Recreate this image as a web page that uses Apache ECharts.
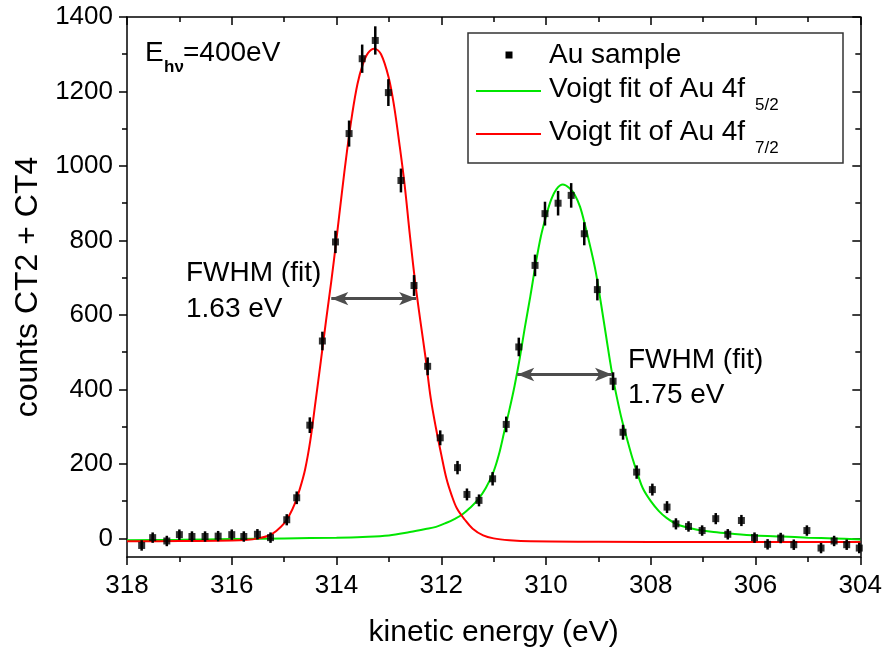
<!DOCTYPE html>
<html><head><meta charset="utf-8">
<script src="https://cdn.jsdelivr.net/npm/echarts@6/dist/echarts.min.js"></script>
<style>html,body{margin:0;padding:0;background:#fff}#c{width:885px;height:659px}</style>
</head><body><div id="c"></div>
<script>
// measured data points (kinetic energy, counts, error)
const energy = [317.72,317.51,317.24,317.0,316.76,316.51,316.26,316.0,315.77,315.51,315.26,314.95,314.76,314.51,314.27,314.02,313.76,313.51,313.26,313.01,312.77,312.52,312.26,312.02,311.69,311.51,311.28,311.02,310.76,310.52,310.21,310.02,309.77,309.52,309.27,309.02,308.72,308.53,308.27,307.97,307.69,307.52,307.28,307.02,306.76,306.53,306.27,306.02,305.77,305.52,305.27,305.02,304.75,304.50,304.26,304.02];
const counts = [-19,2,-7,10,5,5,6,10,5,11,2,50,109,304,530,796,1087,1288,1337,1197,961,679,462,270,190,118,102,160,306,514,733,872,900,921,818,668,422,285,178,131,84,39,32,21,53,11,48,2,-16,1,-17,21,-26,-7,-17,-26];
const errors = [14,14,14,14,14,14,14,14,14,14,14,15,17,21,25,30,35,38,38,36,32,28,24,20,18,16,16,18,21,25,29,32,33,33,31,29,24,20,18,16,16,15,14,14,15,14,15,14,14,14,14,14,14,14,14,14];

// Voigt fit of Au 4f 7/2
const fit72E = [318,317,316,315.7,315.5,315.3,315.15,315.0,314.9,314.8,314.7,314.6,314.5,314.4,314.3,314.2,314.1,314.0,313.9,313.8,313.7,313.6,313.5,313.4,313.28,313.15,313.0,312.9,312.8,312.7,312.6,312.5,312.4,312.3,312.2,312.1,312.0,311.9,311.8,311.7,311.55,311.4,311.2,311.0,310.7,310.3,309,307,305,304];
const fit72Y = [-8,-7,-6,-4,0,7,20,40,62,92,133,185,263,368,475,585,690,805,925,1040,1140,1220,1272,1303,1315,1300,1235,1160,1060,950,815,690,585,485,375,295,225,160,115,80,50,26,8,0,-5,-8,-9,-10,-10,-10];

// Voigt fit of Au 4f 5/2
const fit52E = [318,317,316,315,314,313.5,313,312.6,312.3,312.1,311.9,311.75,311.6,311.45,311.3,311.15,311.0,310.9,310.8,310.7,310.6,310.5,310.4,310.3,310.2,310.1,310.0,309.9,309.8,309.68,309.55,309.45,309.35,309.25,309.15,309.05,308.95,308.85,308.75,308.65,308.55,308.45,308.35,308.25,308.15,308.0,307.85,307.7,307.5,307.2,306.8,306.4,306.0,305.5,305.0,304.5,304];
const fit52Y = [-5,-4,-2,0,2,4,8,17,25,31,42,52,64,82,104,135,180,225,285,345,410,485,570,650,735,810,865,910,938,950,940,922,890,838,780,715,630,540,452,380,317,265,215,172,134,100,74,55,38,26,17,12,8,5,2,0,-3];

// FWHM arrows (energy from, energy to, counts level)
const fwhm72 = [314.10, 312.48, 644];
const fwhm52 = [310.55, 308.74, 440];

const yTicks = [0,200,400,600,800,1000,1200,1400];
const yMinorTicks = [100,300,500,700,900,1100,1300];

const FONT = "'Liberation Sans', Arial, sans-serif";
const chart = echarts.init(document.getElementById('c'), null, {renderer:'canvas'});

const lineBlack = {color:'#000', width:1.5};
const plain = v => String(v);
const baseX = {type:'value', min:304, max:318, interval:2, inverse:true, splitLine:{show:false}};
const baseY = {type:'value', min:-50, max:1400, splitLine:{show:false}};

chart.setOption({
  animation:false,
  backgroundColor:'#fff',
  grid:{left:127, right:22, top:17, bottom:102, containLabel:false},
  xAxis:[
    Object.assign({}, baseX, {
      position:'bottom',
      axisLine:{onZero:false, lineStyle:lineBlack},
      axisTick:{length:8, lineStyle:lineBlack},
      minorTick:{show:true, splitNumber:2, length:5, lineStyle:lineBlack},
      axisLabel:{fontSize:26, color:'#000', margin:16, fontFamily:FONT, formatter:plain},
      name:'kinetic energy (eV)', nameLocation:'middle', nameGap:61,
      nameTextStyle:{fontSize:30, color:'#000', fontFamily:FONT}
    }),
    Object.assign({}, baseX, {
      position:'top',
      axisLine:{onZero:false, lineStyle:lineBlack},
      axisTick:{inside:true, length:8, lineStyle:lineBlack},
      minorTick:{show:true, splitNumber:2, length:5, lineStyle:lineBlack},
      axisLabel:{show:false}
    })
  ],
  yAxis:[
    Object.assign({}, baseY, {
      position:'left',
      axisLine:{show:true, onZero:false, lineStyle:lineBlack},
      axisTick:{show:true, length:8, customValues:yTicks, lineStyle:lineBlack},
      axisLabel:{show:true, customValues:yTicks, fontSize:26, color:'#000', margin:14, fontFamily:FONT, formatter:plain},
      name:'counts CT2 + CT4', nameLocation:'middle', nameGap:83,
      nameTextStyle:{fontSize:32, color:'#000', fontFamily:FONT}
    }),
    Object.assign({}, baseY, {
      position:'left',
      axisLine:{show:false, onZero:false},
      axisTick:{show:true, length:5, customValues:yMinorTicks, lineStyle:lineBlack},
      axisLabel:{show:false}
    }),
    Object.assign({}, baseY, {
      position:'right',
      axisLine:{show:true, onZero:false, lineStyle:lineBlack},
      axisTick:{show:true, inside:true, length:8, customValues:yTicks, lineStyle:lineBlack},
      axisLabel:{show:false}
    }),
    Object.assign({}, baseY, {
      position:'right',
      axisLine:{show:false, onZero:false},
      axisTick:{show:true, inside:true, length:5, customValues:yMinorTicks, lineStyle:lineBlack},
      axisLabel:{show:false}
    })
  ],
  series:[
    {
      name:'Voigt fit of Au 4f 5/2', type:'line', smooth:0.35, showSymbol:false, symbol:'none',
      data: fit52E.map((e,i)=>[e, fit52Y[i]]),
      lineStyle:{color:'#00e600', width:2}, z:2,
      markLine:{
        silent:true, symbol:['arrow','arrow'], symbolSize:[10,17],
        lineStyle:{color:'#4d4d4d', width:3, type:'solid'}, label:{show:false},
        emphasis:{disabled:true},
        data:[
          [{coord:[fwhm72[0], fwhm72[2]]},{coord:[fwhm72[1], fwhm72[2]]}],
          [{coord:[fwhm52[0], fwhm52[2]]},{coord:[fwhm52[1], fwhm52[2]]}]
        ]
      }
    },
    {
      name:'Voigt fit of Au 4f 7/2', type:'line', smooth:0.35, showSymbol:false, symbol:'none',
      data: fit72E.map((e,i)=>[e, fit72Y[i]]),
      lineStyle:{color:'#ff0000', width:2}, z:3
    },
    {
      name:'error', type:'custom', z:4,
      data: energy.map((e,i)=>[e, counts[i], errors[i]]),
      encode:{x:0, y:1},
      renderItem:function(params, api){
        const x = api.value(0), y = api.value(1), er = api.value(2);
        const p1 = api.coord([x, y - er]), p2 = api.coord([x, y + er]);
        return {type:'line', shape:{x1:p1[0], y1:p1[1], x2:p2[0], y2:p2[1]}, style:{stroke:'#000', lineWidth:2.5}};
      }
    },
    {
      name:'Au sample', type:'scatter', z:5,
      symbol:'rect', symbolSize:[7,7],
      data: energy.map((e,i)=>[e, counts[i]]),
      itemStyle:{color:'#000'}
    }
  ],
  graphic:[
    // legend box
    {type:'rect', shape:{x:468, y:33, width:375, height:130}, style:{fill:'#fff', stroke:'#333', lineWidth:1.5}, z:10},
    {type:'rect', shape:{x:505.5, y:51.5, width:7, height:7}, style:{fill:'#000'}, z:11},
    {type:'text', x:549, y:55, style:{text:'Au sample', font:"28px "+FONT, fill:'#000', verticalAlign:'middle'}, z:11},
    {type:'line', shape:{x1:476, y1:91, x2:541, y2:91}, style:{stroke:'#00e600', lineWidth:2}, z:11},
    {type:'text', x:549, y:89, style:{text:'Voigt fit of Au 4f', font:"28px "+FONT, fill:'#000', verticalAlign:'middle'}, z:11},
    {type:'text', x:755, y:105, style:{text:'5/2', font:"17px "+FONT, fill:'#000', verticalAlign:'middle'}, z:11},
    {type:'line', shape:{x1:476, y1:134, x2:541, y2:134}, style:{stroke:'#ff0000', lineWidth:2}, z:11},
    {type:'text', x:549, y:132, style:{text:'Voigt fit of Au 4f', font:"28px "+FONT, fill:'#000', verticalAlign:'middle'}, z:11},
    {type:'text', x:755, y:148, style:{text:'7/2', font:"17px "+FONT, fill:'#000', verticalAlign:'middle'}, z:11},
    // photon energy
    {type:'text', x:145, y:53, style:{text:'E', font:"28px "+FONT, fill:'#000', verticalAlign:'middle'}, z:11},
    {type:'text', x:164, y:67, style:{text:'hν', font:"bold 17px "+FONT, fill:'#000', verticalAlign:'middle'}, z:11},
    {type:'text', x:183, y:53, style:{text:'=400eV', font:"28px "+FONT, fill:'#000', verticalAlign:'middle'}, z:11},
    // FWHM annotations
    {type:'text', x:186, y:273, style:{text:'FWHM (fit)', font:"28px "+FONT, fill:'#000', verticalAlign:'middle'}, z:11},
    {type:'text', x:186, y:309, style:{text:'1.63 eV', font:"28px "+FONT, fill:'#000', verticalAlign:'middle'}, z:11},
    {type:'text', x:628, y:360, style:{text:'FWHM (fit)', font:"28px "+FONT, fill:'#000', verticalAlign:'middle'}, z:11},
    {type:'text', x:628, y:395, style:{text:'1.75 eV', font:"28px "+FONT, fill:'#000', verticalAlign:'middle'}, z:11}
  ]
});
</script></body></html>
